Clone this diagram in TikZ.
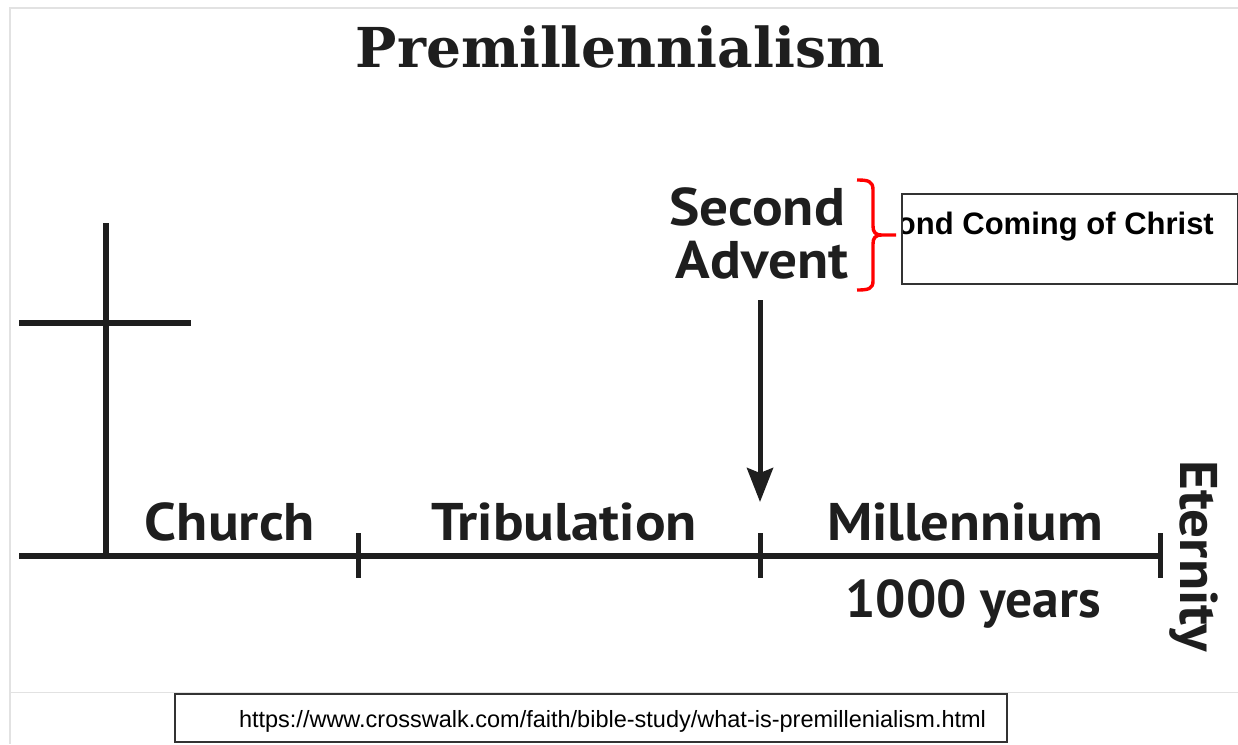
\documentclass[tikz,border=0pt]{standalone}
\usepackage{fontspec}
\usepackage{graphicx}
\usetikzlibrary{arrows.meta}
\newfontfamily\labfont{PT Sans}
\newfontfamily\arialfont{Liberation Sans}
\newfontfamily\titlefont{DejaVu Serif}
\definecolor{ink}{HTML}{1E1E1E}
\definecolor{frame}{HTML}{E2E2E2}
\newcommand{\wide}[1]{\scalebox{1.08}[1]{#1}}
\begin{document}
\begin{tikzpicture}[x=1pt,y=-1pt,
  rule/.style={draw=ink, line width=5.5pt},
  lab/.style={inner sep=0pt, anchor=base, text=ink, font=\labfont\bfseries\fontsize{53}{56}\selectfont},
  boxline/.style={draw=black!80, line width=1.2pt}]
\useasboundingbox (0,0) rectangle (1238,744);
\fill[white] (0,0) rectangle (1238,744);
% screenshot frame
\draw[frame, line width=2pt] (10,744) -- (10,8) -- (1240,8);
\draw[frame, line width=1pt] (10,692) -- (1240,692);
% title
\node[inner sep=0pt, anchor=base, text=ink] (title) at (620,67)
  {\scalebox{1.1}[1.1]{\titlefont\bfseries\fontsize{50}{56}\selectfont Premillennialism}};
% cross
\coordinate (crossTop) at (106,223);
\coordinate (crossBase) at (106,556);
\coordinate (barL) at (19,323);
\coordinate (barR) at (191,323);
\draw[rule] (crossTop) -- (crossBase);
\draw[rule] (barL) -- (barR);
% timeline
\coordinate (lineL) at (19,556);
\coordinate (lineR) at (1160,556);
\draw[rule] (lineL) -- (lineR);
\foreach \x/\n in {358/t1, 760/t2, 1160/t3}{
  \coordinate (\n top) at (\x,533);
  \coordinate (\n bot) at (\x,578);
  \draw[draw=ink, line width=5pt] (\n top) -- (\n bot);
}
% labels
\node[lab] (church) at (230,540) {\wide{Church}};
\node[lab] (trib) at (564,540) {\wide{Tribulation}};
\node[lab] (mill) at (965,540) {\scalebox{1.07}[1]{Millennium}};
\node[lab] (years) at (973,617) {\scalebox{1.01}[1]{1000 years}};
\node[lab] (second) at (757,225) {\wide{Second}};
\node[lab] (advent) at (762,278) {\wide{Advent}};
\node[lab, rotate=-90, anchor=base west] (eternity) at (1180,460) {\wide{Eternity}};
% arrow
\coordinate (arrStart) at (760,300);
\coordinate (arrTip) at (760,502);
\draw[draw=ink, line width=5pt, -{Stealth[length=34pt, width=26pt, inset=5pt]}] (arrStart) -- (arrTip);
% red brace
\draw[red, line width=3.4pt, line join=round]
  (857,180) .. controls (868,180) and (873,181) .. (873,190)
  -- (873,226) .. controls (873,232) and (875,235) .. (882,235) -- (896,235)
  (882,235) .. controls (875,235) and (873,238) .. (873,244)
  -- (873,281) .. controls (873,289) and (868,290) .. (857,290);
% Second Coming box
\coordinate (scA) at (902,194);
\coordinate (scB) at (1237.4,284);
\begin{scope}
  \clip (scA) rectangle (scB);
  \node[inner sep=0pt, anchor=base east, font=\arialfont\bfseries\fontsize{31}{34}\selectfont] (coming) at (1214,234) {Second Coming of Christ};
\end{scope}
\draw[boxline] (scA) rectangle (scB);
% url box
\coordinate (urlA) at (175,694);
\coordinate (urlB) at (1007,742);
\draw[boxline] (urlA) rectangle (urlB);
\node[inner sep=0pt, anchor=base, font=\arialfont\fontsize{23.5}{26}\selectfont] (url) at (612.5,727) {https://www.crosswalk.com/faith/bible-study/what-is-premillenialism.html};
\end{tikzpicture}
\end{document}
